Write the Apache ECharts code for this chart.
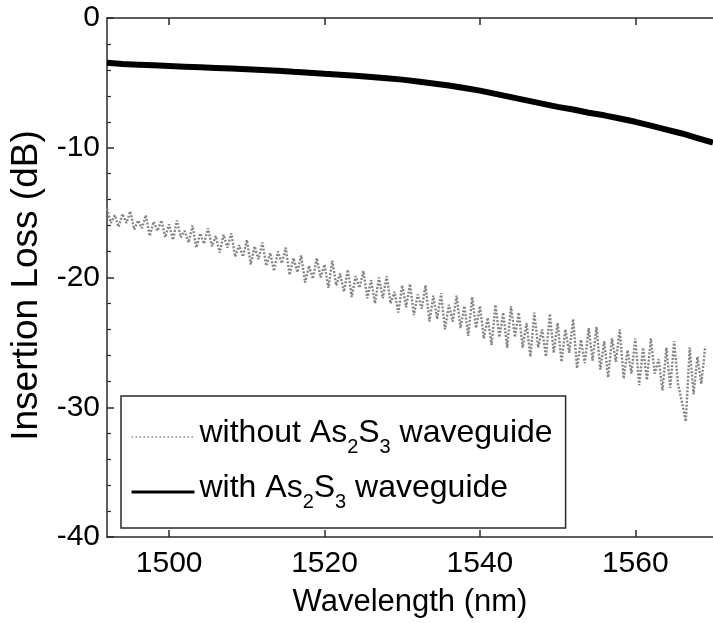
<!DOCTYPE html>
<html>
<head>
<meta charset="utf-8">
<script src="https://cdn.jsdelivr.net/npm/echarts@6/dist/echarts.min.js"></script>
<style>
html,body{margin:0;padding:0;background:#fff;}
#chart{width:713px;height:623px;}
</style>
</head>
<body>
<div id="chart"></div>
<script>
// ---- data ----
const xTicks = [1500, 1520, 1540, 1560];
const yTicks = [-40, -30, -20, -10, 0];

const blackWl = [1492,1494,1496,1498,1500,1502,1504,1506,1508,1510,1512,1514,1516,1518,1520,1522,1524,1526,1528,1530,1532,1534,1536,1538,1540,1542,1544,1546,1548,1550,1552,1554,1556,1558,1560,1562,1564,1566,1568,1570];
const blackLoss = [-3.45,-3.55,-3.6,-3.65,-3.7,-3.75,-3.8,-3.85,-3.9,-3.95,-4.0,-4.07,-4.15,-4.22,-4.3,-4.37,-4.45,-4.55,-4.65,-4.75,-4.9,-5.05,-5.2,-5.4,-5.6,-5.85,-6.1,-6.35,-6.6,-6.85,-7.05,-7.3,-7.5,-7.75,-8.0,-8.3,-8.6,-8.9,-9.25,-9.6];

const grayWl = [1492,1492.5,1493,1493.5,1494,1494.5,1495,1495.5,1496,1496.5,1497,1497.5,1498,1498.5,1499,1499.5,1500,1500.5,1501,1501.5,1502,1502.5,1503,1503.5,1504,1504.5,1505,1505.5,1506,1506.5,1507,1507.5,1508,1508.5,1509,1509.5,1510,1510.5,1511,1511.5,1512,1512.5,1513,1513.5,1514,1514.5,1515,1515.5,1516,1516.5,1517,1517.5,1518,1518.5,1519,1519.5,1520,1520.5,1521,1521.5,1522,1522.5,1523,1523.5,1524,1524.5,1525,1525.5,1526,1526.5,1527,1527.5,1528,1528.5,1529,1529.5,1530,1530.5,1531,1531.5,1532,1532.5,1533,1533.5,1534,1534.5,1535,1535.5,1536,1536.5,1537,1537.5,1538,1538.5,1539,1539.5,1540,1540.5,1541,1541.5,1542,1542.5,1543,1543.5,1544,1544.5,1545,1545.5,1546,1546.5,1547,1547.5,1548,1548.5,1549,1549.5,1550,1550.5,1551,1551.5,1552,1552.5,1553,1553.5,1554,1554.5,1555,1555.5,1556,1556.5,1557,1557.5,1558,1558.5,1559,1559.5,1560,1560.5,1561,1561.5,1562,1562.5,1563,1563.5,1564,1564.5,1565,1565.5,1566,1566.5,1567,1567.5,1568,1568.5,1569];
const grayLoss = [-14.7,-15.8,-15.2,-16.1,-15.1,-15.8,-14.9,-16.3,-15.6,-16.2,-15.2,-16.8,-15.7,-16.4,-15.6,-16.9,
-15.9,-17.1,-15.6,-16.9,-16.4,-17.3,-16.0,-17.7,-16.6,-17.4,
-16.2,-17.6,-16.8,-18.1,-16.7,-17.7,-16.6,-18.4,-17.5,-18.4,
-17.1,-19.0,-17.6,-18.6,-17.3,-19.1,-18.1,-19.5,-18.0,-18.9,
-17.7,-19.8,-18.5,-19.6,-18.3,-20.4,-19.1,-20.1,-18.5,-20.0,
-19.0,-20.8,-18.7,-20.6,-19.7,-21.1,-19.4,-21.5,-19.9,-20.8,
-19.5,-21.6,-20.2,-22.0,-20.0,-21.6,-19.9,-22.0,-21.1,-22.7,
-20.6,-22.3,-20.5,-22.9,-21.3,-22.4,-20.6,-23.4,-21.4,-23.2,
-21.2,-24.0,-22.1,-23.4,-21.4,-23.9,-22.2,-24.5,-21.5,-23.9,
-22.2,-24.7,-23.1,-25.2,-22.1,-24.6,-22.7,-25.4,-22.2,-24.6,
-22.7,-25.4,-23.5,-26.1,-22.7,-25.4,-24.0,-26.1,-22.8,-25.8,
-23.5,-26.5,-24.0,-25.8,-23.2,-27.0,-24.8,-26.6,-23.9,-26.4,
-23.8,-27.1,-24.9,-27.7,-24.7,-26.5,-24.0,-27.8,-25.6,-27.4,
-24.7,-28.3,-25.4,-27.9,-24.7,-27.4,-26.3,-28.7,-25.4,-28.5,
-24.9,-28.2,-29.6,-31.1,-25.4,-29.0,-26.1,-28.2,-25.3];

const seriesNames = ['without As2S3 waveguide', 'with As2S3 waveguide'];

const grayData = grayWl.map((w, i) => [w, grayLoss[i]]);
const blackData = blackWl.map((w, i) => [w, blackLoss[i]]);

const FONT = "'Liberation Sans', Arial, Helvetica, sans-serif";
const AXIS_COLOR = '#2a2a2a';

const chart = echarts.init(document.getElementById('chart'), null, {renderer: 'canvas'});

const option = {
  animation: false,
  backgroundColor: '#fff',
  grid: {left: 107, right: -7, top: 18, bottom: 85},
  legend: {
    left: 121,
    top: 396,
    orient: 'vertical',
    align: 'left',
    padding: [14, 13, 16, 9],
    itemGap: 8,
    itemWidth: 63,
    itemHeight: 14,
    borderColor: AXIS_COLOR,
    borderWidth: 1.5,
    backgroundColor: '#fff',
    selectedMode: false,
    data: [
      {name: seriesNames[0], itemStyle: {opacity: 0}, lineStyle: {width: 1.5, color: '#8a8a8a', type: [1.5, 2.5]}},
      {name: seriesNames[1], itemStyle: {opacity: 0}, lineStyle: {width: 3, color: '#000', type: 'solid'}}
    ],
    formatter: function (name) {
      if (name === seriesNames[0]) return '{a|without As}{s|2}{a|S}{s|3}{a| waveguide}';
      return '{a|with As}{s|2}{a|S}{s|3}{a| waveguide}';
    },
    textStyle: {
      fontFamily: FONT,
      color: '#000',
      rich: {
        a: {fontFamily: FONT, fontSize: 32, lineHeight: 40, verticalAlign: 'top', color: '#000'},
        s: {fontFamily: FONT, fontSize: 20, lineHeight: 22, padding: [27, 0, 0, 0], verticalAlign: 'bottom', color: '#000'}
      }
    }
  },
  xAxis: [
    {
      type: 'value',
      min: 1492,
      max: 1570,
      position: 'bottom',
      name: 'Wavelength (nm)',
      nameLocation: 'middle',
      nameGap: 50,
      nameTextStyle: {fontFamily: FONT, fontSize: 31, color: '#000'},
      axisLine: {show: true, onZero: false, lineStyle: {color: AXIS_COLOR, width: 1.5}},
      axisTick: {show: true, inside: true, length: 7, customValues: xTicks, lineStyle: {color: AXIS_COLOR, width: 1.5}},
      axisLabel: {show: true, customValues: xTicks, margin: 12, fontFamily: FONT, fontSize: 30, color: '#000',
        formatter: function (v) { return String(v); }},
      splitLine: {show: false}
    },
    {
      type: 'value',
      min: 1492,
      max: 1570,
      position: 'top',
      axisLine: {show: true, onZero: false, lineStyle: {color: AXIS_COLOR, width: 1.5}},
      axisTick: {show: true, inside: true, length: 7, customValues: xTicks, lineStyle: {color: AXIS_COLOR, width: 1.5}},
      axisLabel: {show: false},
      splitLine: {show: false}
    }
  ],
  yAxis: [
    {
      type: 'value',
      min: yTicks[0],
      max: yTicks[yTicks.length - 1],
      interval: 10,
      name: 'Insertion Loss (dB)',
      nameLocation: 'middle',
      nameGap: 60,
      nameTextStyle: {fontFamily: FONT, fontSize: 37, color: '#000', padding: [0, 16, 0, 0]},
      axisLine: {show: true, onZero: false, lineStyle: {color: AXIS_COLOR, width: 1.5}},
      axisTick: {show: true, inside: true, length: 7, lineStyle: {color: AXIS_COLOR, width: 1.5}},
      minorTick: {show: true, splitNumber: 5, length: 4, lineStyle: {color: AXIS_COLOR, width: 1.2}},
      axisLabel: {show: true, margin: 7, fontFamily: FONT, fontSize: 30, color: '#000'},
      splitLine: {show: false},
      minorSplitLine: {show: false}
    }
  ],
  series: [
    {
      name: seriesNames[0],
      type: 'line',
      data: grayData,
      symbol: 'none',
      clip: true,
      lineStyle: {color: '#858585', width: 2.4, type: [2, 1.6]},
      itemStyle: {color: '#858585'},
      z: 2
    },
    {
      name: seriesNames[1],
      type: 'line',
      data: blackData,
      symbol: 'none',
      clip: true,
      lineStyle: {color: '#000', width: 6},
      itemStyle: {color: '#000'},
      z: 3
    }
  ]
};

chart.setOption(option);
</script>
</body>
</html>
